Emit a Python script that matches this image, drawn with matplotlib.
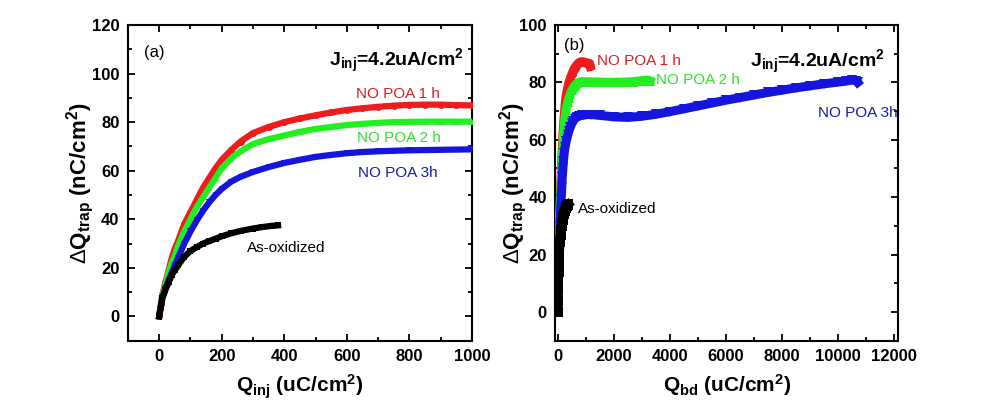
import numpy as np
import matplotlib
matplotlib.use("Agg")
import matplotlib.pyplot as plt
from matplotlib.ticker import MultipleLocator

plt.rcParams['font.family'] = ['Liberation Sans', 'DejaVu Sans']
plt.rcParams['font.weight'] = 'bold'
plt.rcParams['axes.labelweight'] = 'bold'
plt.rcParams['mathtext.fontset'] = 'custom'
plt.rcParams['mathtext.rm'] = 'Liberation Sans:weight=normal'
plt.rcParams['mathtext.bf'] = 'Liberation Sans:bold'
plt.rcParams['mathtext.default'] = 'bf'

# Q_inj / Q_bd (uC/cm^2) and delta Q_trap (nC/cm^2)
x_1h = [0, 5, 10, 20, 30, 40, 50, 60, 80, 100, 120, 140, 160, 180, 200, 230, 260, 300,
        350, 400, 450, 500, 550, 600, 650, 700, 750, 800, 850, 900, 950, 1000,
        1050, 1100, 1130, 1150]
y_1h = [0, 5, 9, 14, 19, 24, 28, 31, 38, 43, 48, 53, 57, 61, 64.5, 68.5, 72, 75.5,
        78, 80, 81.5, 82.8, 84, 85, 85.7, 86.3, 86.8, 87.1, 87.2, 87.2, 87.0, 86.9,
        86.8, 86.6, 86.2, 85.6]

x_2h = [0, 5, 10, 20, 30, 40, 50, 60, 80, 100, 120, 140, 160, 180, 200, 230, 260, 300,
        350, 400, 450, 500, 550, 600, 650, 700, 750, 800, 850, 900, 950, 1000,
        1200, 1500, 1800, 2100, 2400, 2700, 3000, 3200, 3300]
y_2h = [0, 4.5, 8.5, 13, 18, 22, 25, 29, 35, 40, 45, 49, 53, 57, 61, 65, 68, 71,
        73, 74.5, 76, 77.2, 78, 78.8, 79.3, 79.7, 80, 80.1, 80.2, 80.2, 80.2, 80.2,
        80.2, 80.1, 80.0, 80.0, 80.1, 80.3, 80.6, 80.8, 80.5]

x_3h = [0, 5, 10, 20, 30, 40, 50, 60, 80, 100, 120, 140, 160, 180, 200, 230, 260, 300,
        350, 400, 450, 500, 550, 600, 650, 700, 750, 800, 850, 900, 950, 1000,
        1200, 1500, 2000, 2500, 3000, 3500, 4000, 4500, 5000, 5500, 6000, 6500,
        7000, 7500, 8000, 8500, 9000, 9500, 10000, 10300, 10500, 10650, 10700]
y_3h = [0, 4, 7.5, 11.5, 15, 18, 21, 24, 30, 35, 39.5, 43.5, 47, 50, 52.5, 55.5, 57.5, 59.5,
        61.5, 63.2, 64.5, 65.7, 66.5, 67.2, 67.7, 68.0, 68.2, 68.4, 68.5, 68.6, 68.7, 68.8,
        68.8, 68.5, 68.0, 67.8, 68.2, 68.9, 69.8, 70.8, 71.8, 72.8, 73.8, 74.7,
        75.6, 76.5, 77.3, 78.1, 78.8, 79.5, 80.1, 80.5, 80.8, 80.6, 80.0]

x_ox = [0, 5, 10, 20, 30, 40, 50, 60, 80, 100, 120, 140, 160, 180, 200, 230, 260, 300,
        330, 360, 380]
y_ox = [0, 4, 7.5, 11, 14, 17, 19, 21, 24.5, 27, 28.5, 30, 31, 32, 33, 34.2, 35.2, 36.2,
        36.8, 37.3, 37.5]

series = [
    (x_1h, y_1h, '#ee1c1c', 'o'),
    (x_2h, y_2h, '#22ee22', '^'),
    (x_3h, y_3h, '#1515dd', 'v'),
    (x_ox, y_ox, 'black', 's'),
]

ylab = r'$\mathrm{\Delta}$Q$_{trap}$ (nC/cm$^2$)'

fig = plt.figure(figsize=(9.95, 4.2), dpi=100)
ax1 = fig.add_axes([0.1286, 0.1888, 0.3457, 0.7517])
ax2 = fig.add_axes([0.5578, 0.1888, 0.3450, 0.7517])


def style_axes(ax):
    ax.tick_params(which='both', direction='in', top=True, right=True, width=1.3)
    ax.tick_params(which='major', length=5, labelsize=12, pad=6)
    ax.tick_params(which='minor', length=3)
    for sp in ax.spines.values():
        sp.set_linewidth(1.5)


# panel (a)
for xs, ys, c, m in series:
    ax1.plot(xs, ys, color=c, lw=4.5, marker=m, ms=5, mew=0, zorder=3)
ax1.set_xlim(-100, 1000)
ax1.set_ylim(-10, 120)
ax1.set_xticks([0, 200, 400, 600, 800, 1000])
ax1.set_yticks([0, 20, 40, 60, 80, 100, 120])
ax1.xaxis.set_minor_locator(MultipleLocator(100))
ax1.yaxis.set_minor_locator(MultipleLocator(10))
style_axes(ax1)
ax1.set_xlabel(r'Q$_{inj}$ (uC/cm$^2$)', fontsize=15, labelpad=6)
ax1.set_ylabel(ylab, fontsize=16, labelpad=-3)
ax1.text(-16, 108.5, '(a)', fontsize=12, fontweight='normal', ha='center', va='center')
ax1.text(975, 105, r'J$_{inj}$=4.2uA/cm$^2$', fontsize=14, ha='right', va='center')
ax1.text(763, 91.5, 'NO POA 1 h', color='#d42020', fontsize=11, fontweight='normal',
         ha='center', va='center')
ax1.text(765, 73.6, 'NO POA 2 h', color='#33dd33', fontsize=11, fontweight='normal',
         ha='center', va='center')
ax1.text(763, 59, 'NO POA 3h', color='#1a1aa8', fontsize=11, fontweight='normal',
         ha='center', va='center')
ax1.text(407, 28, 'As-oxidized', color='black', fontsize=11, fontweight='normal',
         ha='center', va='center')

# panel (b)
for xs, ys, c, m in series:
    ax2.plot(xs, ys, color=c, lw=6.5, marker=m, ms=6.5, mew=0, zorder=3)
ax2.set_xlim(-100, 12150)
ax2.set_ylim(-10, 100)
ax2.set_xticks([0, 2000, 4000, 6000, 8000, 10000, 12000])
ax2.set_yticks([0, 20, 40, 60, 80, 100])
ax2.xaxis.set_minor_locator(MultipleLocator(1000))
ax2.yaxis.set_minor_locator(MultipleLocator(10))
style_axes(ax2)
ax2.set_xlabel(r'Q$_{bd}$ (uC/cm$^2$)', fontsize=15, labelpad=6)
ax2.set_ylabel(ylab, fontsize=16, labelpad=-7)
ax2.text(600, 93, '(b)', fontsize=12, fontweight='normal', ha='center', va='center')
ax2.text(6860, 87, r'J$_{inj}$=4.2uA/cm$^2$', fontsize=14, ha='left', va='center')
ax2.text(1390, 87.4, 'NO POA 1 h', color='#d42020', fontsize=11, fontweight='normal',
         ha='left', va='center')
ax2.text(3510, 80.8, 'NO POA 2 h', color='#33dd33', fontsize=11, fontweight='normal',
         ha='left', va='center')
ax2.text(9290, 69.3, 'NO POA 3h', color='#1a1aa8', fontsize=11, fontweight='normal',
         ha='left', va='center')
ax2.text(725, 36, 'As-oxidized', color='black', fontsize=11, fontweight='normal',
         ha='left', va='center')

fig.savefig('out.png', dpi=100)
